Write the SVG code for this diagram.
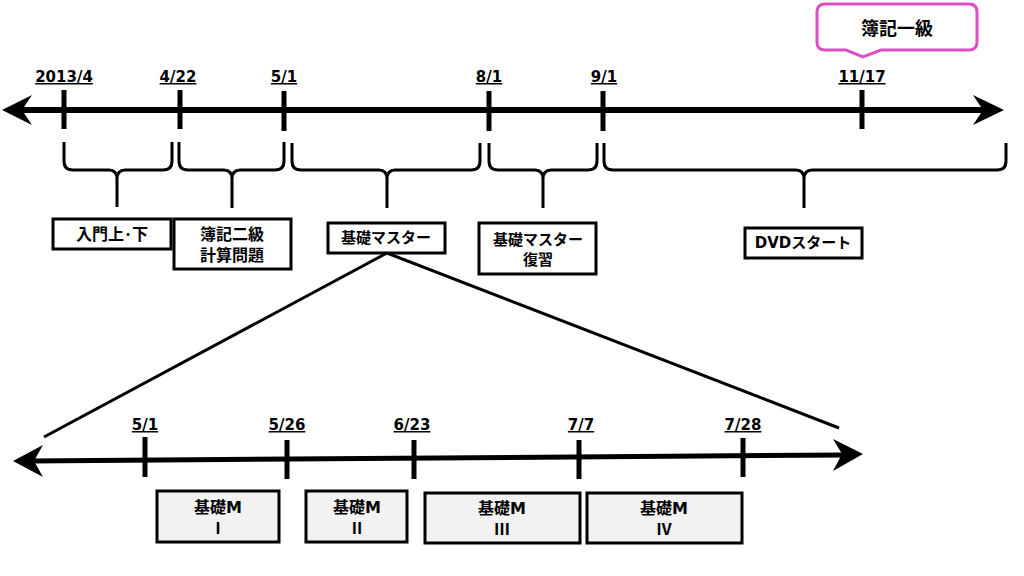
<svg xmlns="http://www.w3.org/2000/svg" width="1024" height="576" viewBox="0 0 1024 576">
<style>
.lbl{font-family:"DejaVu Sans","Noto Sans CJK JP",sans-serif;font-weight:bold;font-size:15px;text-anchor:middle;text-decoration:underline;fill:#000}
.t{font-family:"DejaVu Sans","Noto Sans CJK JP",sans-serif;font-weight:bold;font-size:16px;text-anchor:middle;fill:#000}
.rn{font-family:"Noto Sans CJK JP",sans-serif;font-weight:bold;font-size:16px;text-anchor:middle;fill:#000}
.box{fill:#fff;stroke:#000;stroke-width:3}
.gbox{fill:#f2f2f2;stroke:#000;stroke-width:3}
.tick{stroke:#000;stroke-width:5}
.brace{fill:none;stroke:#000;stroke-width:3}
.ax{stroke:#000;stroke-width:6}
</style>
<rect width="1024" height="576" fill="#fff"/>
<g id="top-axis">
<line class="ax" x1="20" y1="110" x2="985" y2="110"/>
<polygon points="2,110 32,95 22,110 32,125"/>
<polygon points="1004,110 973,95 983,110 973,125"/>
<line class="tick" x1="64" y1="90" x2="64" y2="129"/>
<line class="tick" x1="180" y1="90" x2="180" y2="129"/>
<line class="tick" x1="284" y1="91" x2="284" y2="131"/>
<line class="tick" x1="489" y1="91" x2="489" y2="131"/>
<line class="tick" x1="603" y1="91" x2="603" y2="131"/>
<line class="tick" x1="862" y1="90" x2="862" y2="129"/>
<text class="lbl" x="64" y="82">2013/4</text>
<text class="lbl" x="178" y="82">4/22</text>
<text class="lbl" x="284" y="82">5/1</text>
<text class="lbl" x="489" y="82">8/1</text>
<text class="lbl" x="604" y="82">9/1</text>
<text class="lbl" x="862" y="82">11/17</text>
</g>
<g id="callout-kyu1">
<path d="M825,4 H969 Q977,4 977,12 V42 Q977,50 969,50 H881 L863,57 L846,50 H825 Q817,50 817,42 V12 Q817,4 825,4 Z" fill="#fff" stroke="#DD4FC4" stroke-width="3"/>
<text class="t" x="897" y="35" style="font-size:18px">簿記一級</text>
</g>
<g id="connectors">
<path class="brace" d="M64,142 V161 Q64,170 73,170 H109 Q117,170 117,179 V207 M117,179 Q117,170 125,170 H163 Q172,170 172,161 V142"/>
<path class="brace" d="M179,142 V161 Q179,170 188,170 H224 Q232,170 232,179 V208 M232,179 Q232,170 240,170 H275 Q284,170 284,161 V142"/>
<path class="brace" d="M292,143 V161 Q292,170 301,170 H379 Q387,170 387,179 V208 M387,179 Q387,170 395,170 H471 Q480,170 480,161 V143"/>
<path class="brace" d="M489,143 V161 Q489,170 498,170 H535 Q543,170 543,179 V208 M543,179 Q543,170 551,170 H588 Q597,170 597,161 V143"/>
<path class="brace" d="M604,143 V161 Q604,170 613,170 H796 Q804,170 804,179 V208 M804,179 Q804,170 812,170 H997 Q1006,170 1006,161 V143"/>
<line x1="387" y1="253" x2="44" y2="437" stroke="#000" stroke-width="3"/>
<line x1="387" y1="253" x2="839" y2="428" stroke="#000" stroke-width="3"/>
</g>
<g id="node-nyumon">
<rect class="box" x="53" y="219" width="118" height="30"/>
<text class="t" x="112" y="240">入門上･下</text>
</g>
<g id="node-boki2">
<rect class="box" x="174" y="219" width="117" height="50"/>
<text class="t" x="232" y="240">簿記二級</text>
<text class="t" x="232" y="261">計算問題</text>
</g>
<g id="node-kiso">
<rect class="box" x="328" y="223" width="117" height="30"/>
<text class="t" x="386" y="243" style="font-size:15px">基礎マスター</text>
</g>
<g id="node-kiso-review">
<rect class="box" x="479" y="223" width="117" height="51"/>
<text class="t" x="538" y="245" style="font-size:15px">基礎マスター</text>
<text class="t" x="538" y="265" style="font-size:15px">復習</text>
</g>
<g id="node-dvd">
<rect class="box" x="745" y="228" width="117" height="30"/>
<text class="t" x="803" y="248" style="font-size:15px">DVDスタート</text>
</g>
<g id="bottom-axis">
<line stroke="#000" stroke-width="5" x1="30" y1="461" x2="846" y2="455"/>
<polygon points="13,461 43,445 34,461 43,477"/>
<polygon points="863,454 833,439 842,454 833,471"/>
<line class="tick" x1="145" y1="437" x2="145" y2="477"/>
<line class="tick" x1="287" y1="440" x2="287" y2="479"/>
<line class="tick" x1="414" y1="440" x2="414" y2="479"/>
<line class="tick" x1="579" y1="440" x2="579" y2="479"/>
<line class="tick" x1="743" y1="438" x2="743" y2="477"/>
<text class="lbl" x="145" y="430">5/1</text>
<text class="lbl" x="287" y="430">5/26</text>
<text class="lbl" x="412" y="430">6/23</text>
<text class="lbl" x="581" y="430">7/7</text>
<text class="lbl" x="743" y="430">7/28</text>
</g>
<g id="node-m1">
<rect class="gbox" x="157" y="491" width="122" height="51"/>
<text class="t" x="218" y="513">基礎M</text>
<text class="rn" x="218" y="534">Ⅰ</text>
</g>
<g id="node-m2">
<rect class="gbox" x="306" y="491" width="101" height="51"/>
<text class="t" x="357" y="513">基礎M</text>
<text class="rn" x="357" y="534">Ⅱ</text>
</g>
<g id="node-m3">
<rect class="gbox" x="425" y="493" width="155" height="50"/>
<text class="t" x="502" y="514">基礎M</text>
<text class="rn" x="502" y="535">Ⅲ</text>
</g>
<g id="node-m4">
<rect class="gbox" x="587" y="493" width="155" height="50"/>
<text class="t" x="664" y="514">基礎M</text>
<text class="rn" x="664" y="535">Ⅳ</text>
</g>
</svg>
